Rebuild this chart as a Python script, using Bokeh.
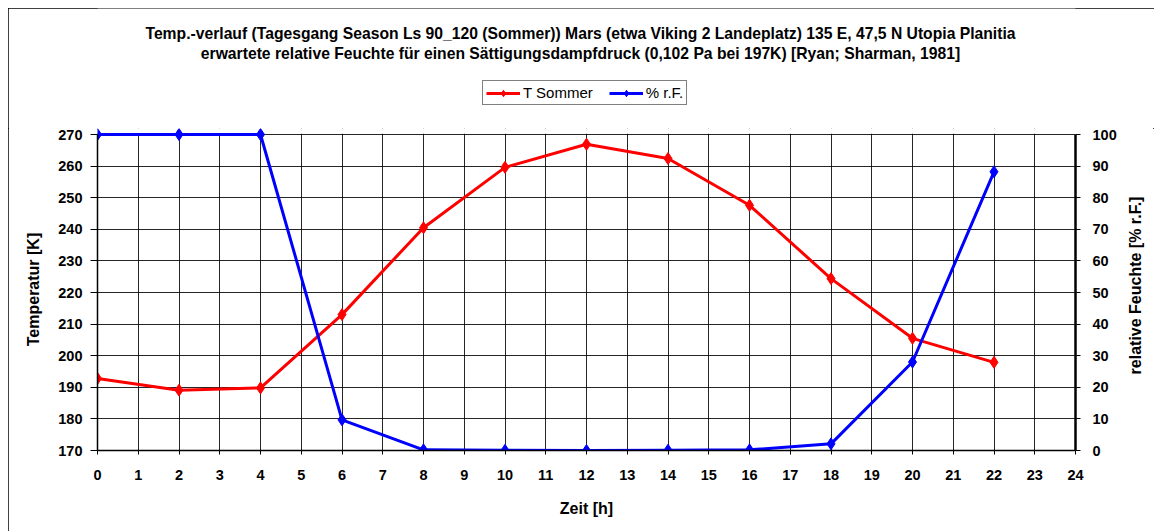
import math
from bokeh.plotting import figure
from bokeh.layouts import column
from bokeh.models import (Range1d, LinearAxis, FixedTicker, Legend, LegendItem, Label, BoxAnnotation)
from bokeh.embed import file_html
from bokeh.resources import INLINE

# ---- data ----
hours = [0, 2, 4, 6, 8, 10, 12, 14, 16, 18, 20, 22]
temp_sommer = [192.8, 189.1, 189.8, 213.0, 240.5, 259.6, 266.9, 262.4, 247.6, 224.4, 205.5, 197.9]
rel_feuchte = [100.0, 100.0, 100.0, 9.7, 0.2, 0.05, 0.0, 0.1, 0.2, 2.1, 28.0, 88.2]
x_ticks = list(range(0, 25))
t_ticks = list(range(170, 271, 10))
rh_ticks = list(range(0, 101, 10))
title_1 = "Temp.-verlauf (Tagesgang Season Ls 90_120 (Sommer)) Mars (etwa Viking 2 Landeplatz) 135 E, 47,5 N Utopia Planitia"
title_2 = "erwartete relative Feuchte für einen Sättigungsdampfdruck (0,102 Pa bei 197K) [Ryan; Sharman, 1981]"
series_names = ["T Sommer", "% r.F."]
colors = ["#FF0000", "#0000FF"]
x_label = "Zeit [h]"
y_label = "Temperatur [K]"
y2_label = "relative Feuchte [% r.F.]"

FONT = "Liberation Sans"

# layout constants (pixels)
W = 1146
TOP_H = 120                 # header strip (titles + legend)
MAIN_H = 523 - TOP_H
B_LEFT, B_RIGHT, B_BOTTOM = 89, 79, 81
PLOT_H = 316                # height of the 170..270 plot area
FRAME_H = MAIN_H - B_BOTTOM # frame reaches a few px above the plot area
t_lo, t_hi = 170, 270
rh_lo, rh_hi = 0, 100
t_top = t_lo + (t_hi - t_lo) * FRAME_H / PLOT_H
rh_top = rh_lo + (rh_hi - rh_lo) * FRAME_H / PLOT_H

# ---------------- header figure (titles + legend) ----------------
head = figure(width=W, height=TOP_H, output_backend="svg", toolbar_location=None,
              x_range=Range1d(-2, -1), y_range=Range1d(-2, -1),
              min_border=0, x_axis_type=None, y_axis_type=None)
head.outline_line_color = None
head.xgrid.visible = False
head.ygrid.visible = False
head.border_fill_color = "white"
head.background_fill_color = "white"

# legend proxies (same series, lying outside the header's visible ranges)
items = []
for name, col, ys in zip(series_names, colors, (temp_sommer, rel_feuchte)):
    lr = head.line(hours, ys, line_color=col, line_width=3)
    sr = head.scatter(hours, ys, marker="diamond", size=12, fill_color=col, line_color=col)
    items.append(LegendItem(label=name, renderers=[lr, sr]))

legend = Legend(items=items, location=(385, TOP_H - 97), orientation="horizontal",
                label_text_font=FONT, label_text_font_size="15px",
                label_text_color="black",
                glyph_width=34, glyph_height=16, label_height=16, label_standoff=3,
                padding=3, spacing=16, margin=0,
                border_line_color="black", border_line_width=1,
                background_fill_color="white", background_fill_alpha=1)
head.add_layout(legend, "center")

for txt, top_px in ((title_1, 25), (title_2, 45)):
    head.add_layout(Label(x=483, y=TOP_H - top_px, x_units="screen", y_units="screen", text=txt,
                          text_align="center", text_baseline="middle",
                          text_font=FONT, text_font_style="bold", text_font_size="15.7px",
                          text_color="black"))

# ---------------- main chart ----------------
p = figure(width=W, height=MAIN_H, output_backend="svg", toolbar_location=None,
           x_range=Range1d(0, 24), y_range=Range1d(t_lo, t_top),
           min_border_left=B_LEFT, min_border_right=B_RIGHT, min_border_top=0,
           min_border_bottom=B_BOTTOM)
p.outline_line_color = None
p.background_fill_color = "white"
p.border_fill_color = "white"
p.extra_y_ranges = {"rh": Range1d(rh_lo, rh_top)}

ax = p.xaxis[0]
ax.ticker = FixedTicker(ticks=x_ticks)
ax.axis_label = x_label
ay = p.yaxis[0]
ay.ticker = FixedTicker(ticks=t_ticks)
ay.axis_label = y_label
ay.bounds = (t_lo, t_hi)
ar = LinearAxis(y_range_name="rh", ticker=FixedTicker(ticks=rh_ticks), bounds=(rh_lo, rh_hi))
p.add_layout(ar, "right")

for a in (ax, ay, ar):
    a.major_label_text_font = FONT
    a.major_label_text_font_style = "bold"
    a.major_label_text_font_size = "14.5px"
    a.major_label_text_color = "black"
    a.axis_label_text_font = FONT
    a.axis_label_text_font_style = "bold"
    a.axis_label_text_font_size = "16px"
    a.axis_label_text_color = "black"
    a.axis_line_color = "black"
    a.major_tick_line_color = "black"
    a.minor_tick_line_color = None
    a.major_tick_in = 0

ax.major_tick_out = 4
ax.major_label_standoff = 15
ax.axis_label_standoff = 17
ax.axis_line_width = 1.5
ay.major_tick_out = 7
ay.major_label_standoff = 8
ay.axis_label_standoff = 13
ay.axis_line_width = 1.5
ar.major_tick_out = 5
ar.major_label_standoff = 12
ar.axis_line_width = 2.5

# right-hand axis title, reading bottom-to-top, centred on the plot area
p.add_layout(Label(x=16, y=165, x_units="screen", y_units="screen", text=y2_label,
                   angle=math.pi / 2, text_align="center", text_baseline="middle",
                   text_font=FONT, text_font_style="bold", text_font_size="16px",
                   text_color="black"), "right")

p.xgrid.ticker = FixedTicker(ticks=x_ticks)
p.ygrid.ticker = FixedTicker(ticks=t_ticks)
for g in (p.xgrid[0], p.ygrid[0]):
    g.grid_line_color = "black"
    g.grid_line_width = 1
    g.grid_line_alpha = 0.85

# hide grid lines in the thin strip above the plot area
p.add_layout(BoxAnnotation(bottom=t_hi + 0.25, fill_color="white", fill_alpha=1,
                           line_color=None, level="underlay"))

p.line(hours, temp_sommer, line_color=colors[0], line_width=3)
p.scatter(hours, temp_sommer, marker="diamond", size=12, fill_color=colors[0], line_color=colors[0])
p.line(hours, rel_feuchte, line_color=colors[1], line_width=3, y_range_name="rh")
p.scatter(hours, rel_feuchte, marker="diamond", size=12, fill_color=colors[1], line_color=colors[1],
          y_range_name="rh")

layout = column(head, p, spacing=0)
layout.margin = (8, 0, 0, 8)
layout.styles = {"outline": "1px solid black", "outline-offset": "-1px", "background": "white"}

open("out.html", "w").write(file_html(layout, INLINE))
